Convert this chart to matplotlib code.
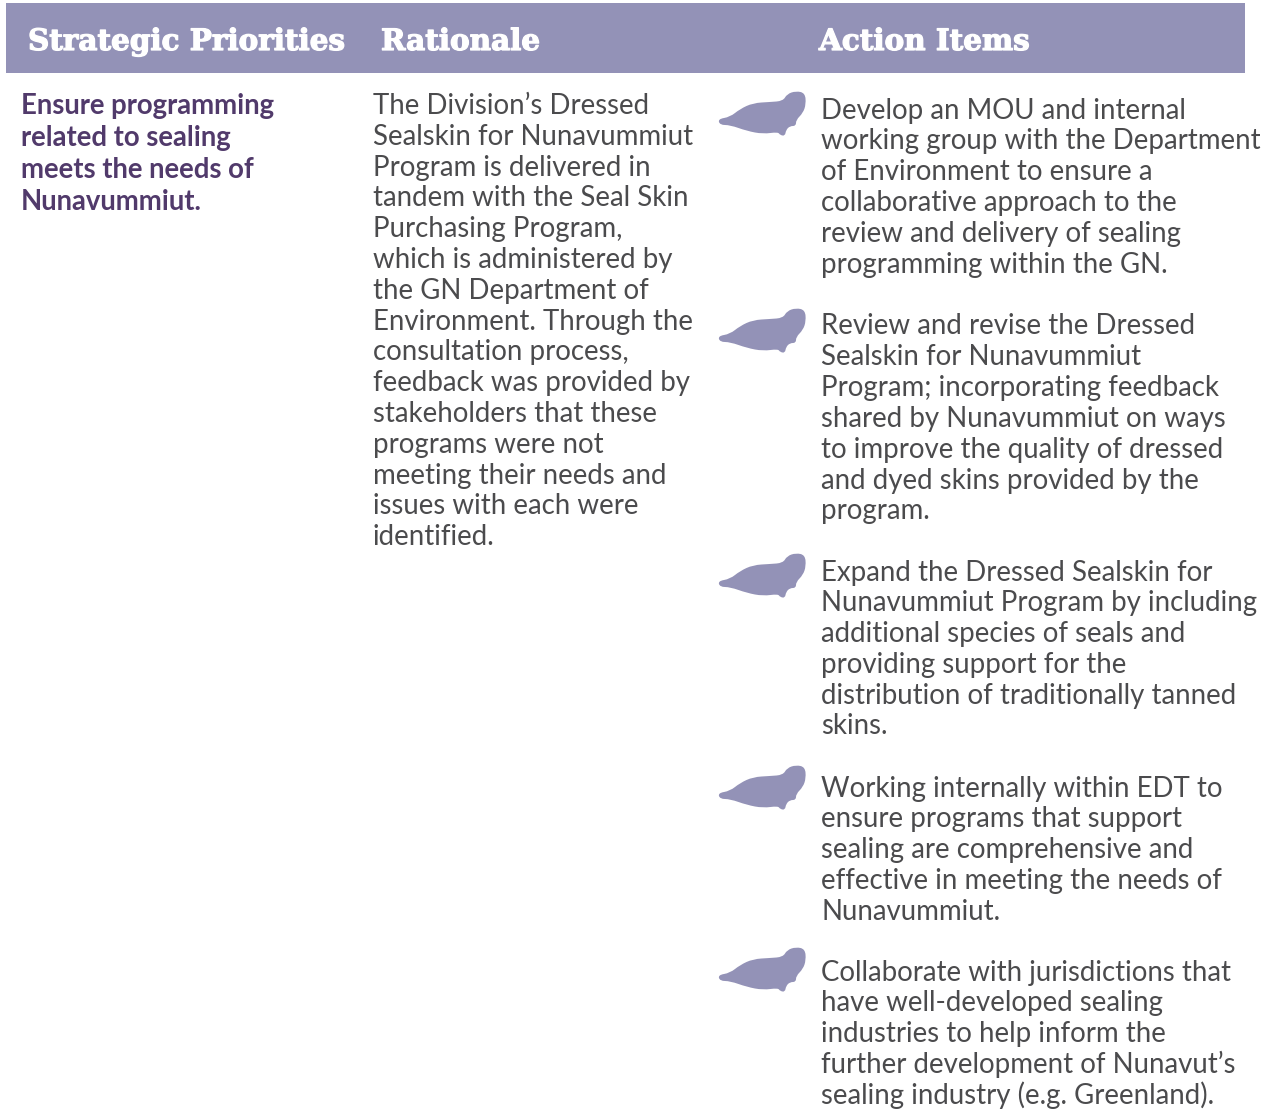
import matplotlib.pyplot as plt
import matplotlib.patheffects as pe
from matplotlib.patches import PathPatch, Rectangle
from matplotlib.path import Path

headers = ["Strategic Priorities", "Rationale", "Action Items"]
header_x = [28, 381, 819]

priority_lines = ["Ensure programming", "related to sealing", "meets the needs of", "Nunavummiut."]

rationale_lines = [
    "The Division’s Dressed", "Sealskin for Nunavummiut", "Program is delivered in",
    "tandem with the Seal Skin", "Purchasing Program,", "which is administered by",
    "the GN Department of", "Environment. Through the", "consultation process,",
    "feedback was provided by", "stakeholders that these", "programs were not",
    "meeting their needs and", "issues with each were", "identified.",
]

action_items = [
    ["Develop an MOU and internal", "working group with the Department", "of Environment to ensure a",
     "collaborative approach to the", "review and delivery of sealing", "programming within the GN."],
    ["Review and revise the Dressed", "Sealskin for Nunavummiut", "Program; incorporating feedback",
     "shared by Nunavummiut on ways", "to improve the quality of dressed", "and dyed skins provided by the",
     "program."],
    ["Expand the Dressed Sealskin for", "Nunavummiut Program by including", "additional species of seals and",
     "providing support for the", "distribution of traditionally tanned", "skins."],
    ["Working internally within EDT to", "ensure programs that support", "sealing are comprehensive and",
     "effective in meeting the needs of", "Nunavummiut."],
    ["Collaborate with jurisdictions that", "have well-developed sealing", "industries to help inform the",
     "further development of Nunavut’s", "sealing industry (e.g. Greenland)."],
]
action_baselines = [118.5, 334.5, 580.5, 796.5, 980.5]
icon_tops = [93, 310, 555, 767, 949]

# seal outline, px relative to the top left of the icon
seal_x = [-2, 10, 20, 33, 50, 63, 67, 76, 85, 86, 83, 76, 76, 70, 66, 65, 60, 58, 43, 27, 10, 0]
seal_y = [26, 24, 16, 10, 9, 8, 1, -2, 0, 11, 20, 27, 33, 33, 37, 43, 42, 39, 41, 38, 32, 32]

HEAD = "#9392b7"
PURPLE = "#513a6b"
GREY = "#4b4b4d"
LINE = 30.8


def seal_path(left, top):
    xs = [left + x for x in seal_x]
    ys = [top + y for y in seal_y]
    n = len(xs)
    verts = [((xs[-1] + xs[0]) / 2, (ys[-1] + ys[0]) / 2)]
    codes = [Path.MOVETO]
    for i in range(n):
        j = (i + 1) % n
        verts += [(xs[i], ys[i]), ((xs[i] + xs[j]) / 2, (ys[i] + ys[j]) / 2)]
        codes += [Path.CURVE3, Path.CURVE3]
    return Path(verts, codes)


fig = plt.figure(figsize=(12.64, 11.18), dpi=100)
ax = fig.add_axes([0, 0, 1, 1])
ax.set_xlim(0, 1264)
ax.set_ylim(1118, 0)
ax.axis("off")

ax.add_patch(Rectangle((6, 3), 1239, 70, color=HEAD, lw=0))
for x, label in zip(header_x, headers):
    ax.text(x, 50, label, color="white", fontsize=21.2, fontweight="bold",
            family="DejaVu Serif", va="baseline",
            path_effects=[pe.withStroke(linewidth=0.9, foreground="white")])

for i, line in enumerate(priority_lines):
    ax.text(21, 114 + i * 32, line, color=PURPLE, fontsize=19.8, fontweight="bold",
            family="Lato", va="baseline")

for i, line in enumerate(rationale_lines):
    ax.text(373, 114 + i * LINE, line, color=GREY, fontsize=19.9,
            family="Lato", va="baseline")

for top, base, lines in zip(icon_tops, action_baselines, action_items):
    ax.add_patch(PathPatch(seal_path(720, top), facecolor=HEAD, edgecolor="none"))
    for i, line in enumerate(lines):
        ax.text(821, base + i * LINE, line, color=GREY, fontsize=19.9,
                family="Lato", va="baseline")

fig.savefig("out.png", dpi=100)
